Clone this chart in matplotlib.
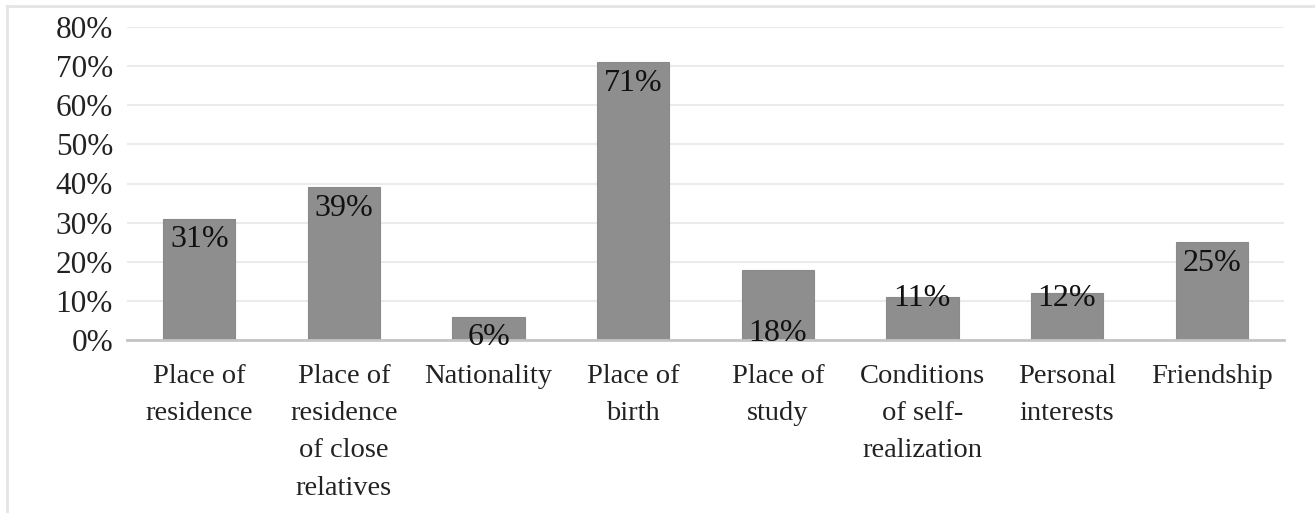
import matplotlib
matplotlib.use("Agg")
import matplotlib.pyplot as plt
from matplotlib.lines import Line2D

categories = ["Place of\nresidence", "Place of\nresidence\nof close\nrelatives", "Nationality",
              "Place of\nbirth", "Place of\nstudy", "Conditions\nof self-\nrealization",
              "Personal\ninterests", "Friendship"]
values = [31, 39, 6, 71, 18, 11, 12, 25]
value_labels = ["31%", "39%", "6%", "71%", "18%", "11%", "12%", "25%"]
yticks = [0, 10, 20, 30, 40, 50, 60, 70, 80]
ytick_labels = ["0%", "10%", "20%", "30%", "40%", "50%", "60%", "70%", "80%"]

# label placement: inside top of bar, at bar base, or straddling the bar top
label_mode = ["top", "top", "base", "top", "base", "edge", "edge", "top"]

plt.rcParams['font.family'] = ['Liberation Serif', 'DejaVu Serif']

fig = plt.figure(figsize=(13.15, 5.13), dpi=100)
ax = fig.add_axes([127/1315, 1 - 340/513, (1284-127)/1315, (340-27)/513])

x = list(range(len(values)))
ax.bar(x, values, width=0.5, color="#8e8e8e", edgecolor="#8a8a8a", linewidth=0.8, zorder=3)
ax.set_xlim(-0.5, len(values) - 0.5)
ax.set_ylim(0, 80)
ax.set_yticks(yticks)
ax.set_yticklabels(ytick_labels, fontsize=22.5, color="#222222")
ax.set_xticks(x)
ax.set_xticklabels(categories, fontsize=20.5, color="#222222", linespacing=1.65, va="top")
ax.tick_params(axis="both", length=0)
ax.tick_params(axis="y", pad=10)
ax.tick_params(axis="x", pad=17)
ax.grid(axis="y", color="#ebebeb", linewidth=1.5, zorder=0)
for s in ["top", "right", "left"]:
    ax.spines[s].set_visible(False)
ax.spines["bottom"].set_color("#c4c4c4")
ax.spines["bottom"].set_linewidth(2)
ax.spines["bottom"].set_zorder(4)

for xi, v, lab, mode in zip(x, values, value_labels, label_mode):
    if mode == "top":
        ax.annotate(lab, (xi, v), xytext=(0, -15), textcoords="offset points",
                    ha="center", va="center", fontsize=23, color="#111111", zorder=5)
    elif mode == "edge":
        ax.annotate(lab, (xi, 10.9), xytext=(0, -1), textcoords="offset points",
                    ha="center", va="center", fontsize=23, color="#111111", zorder=5)
    else:
        ax.annotate(lab, (xi, 0), xytext=(0, 5 if v > 10 else 2), textcoords="offset points",
                    ha="center", va="center", fontsize=23, color="#111111", zorder=5)

# outer frame (left and top)
fig.add_artist(Line2D([7/1315, 7/1315], [0, 1 - 5.5/513], transform=fig.transFigure,
                      color="#e4e4e4", linewidth=2))
fig.add_artist(Line2D([7/1315, 1], [1 - 5.5/513, 1 - 5.5/513], transform=fig.transFigure,
                      color="#e4e4e4", linewidth=2))

fig.savefig("out.png", dpi=100)
